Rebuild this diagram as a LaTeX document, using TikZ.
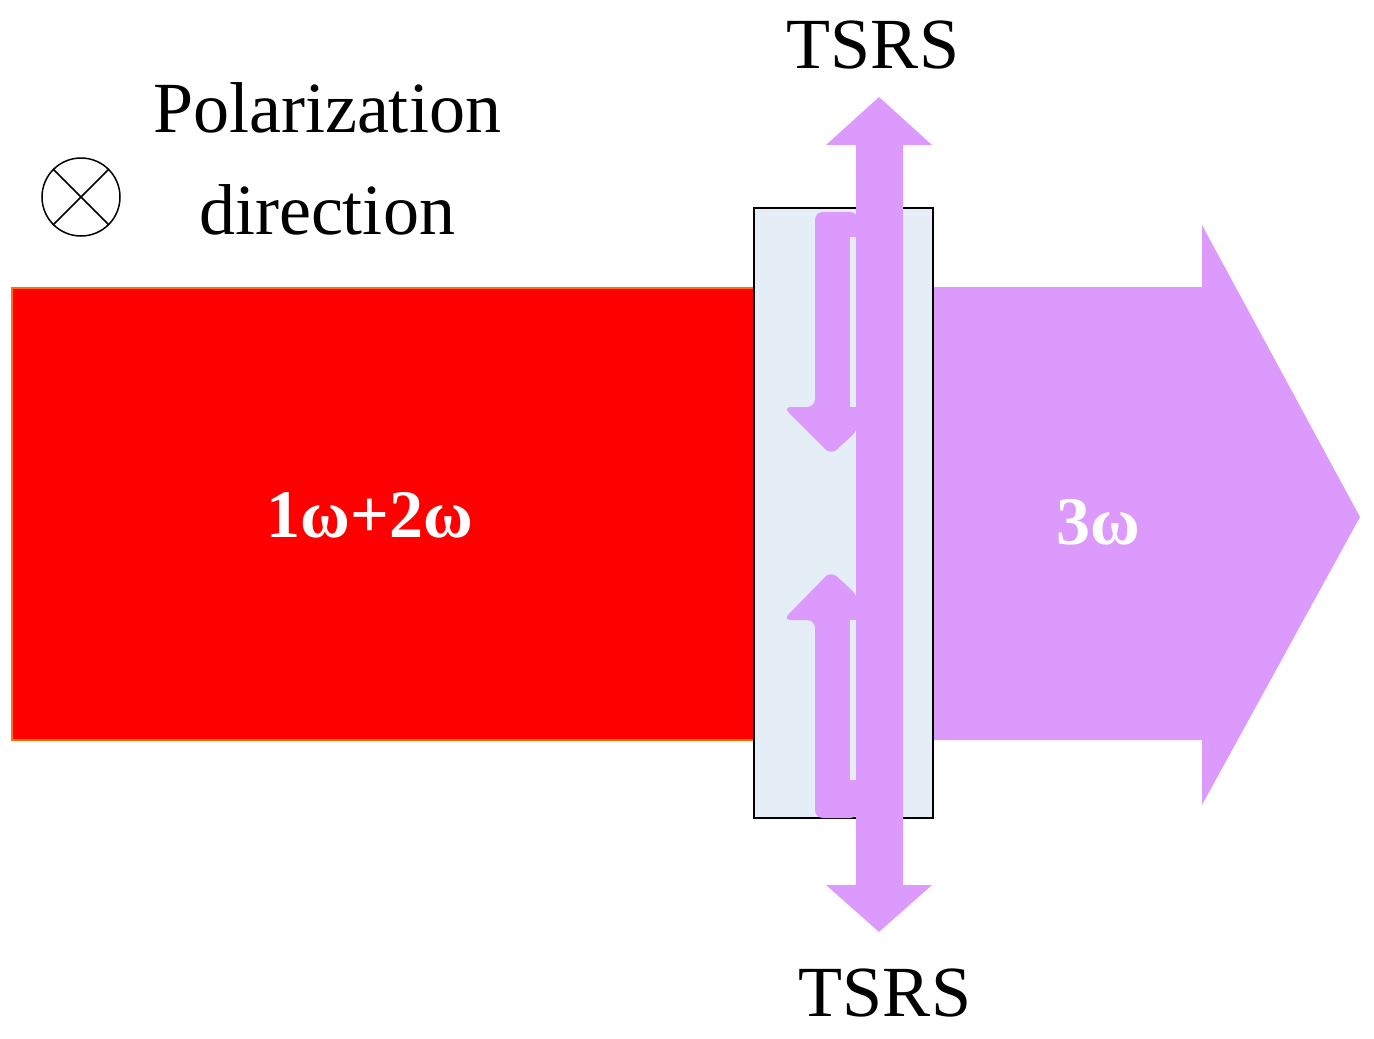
\documentclass[tikz,border=0pt]{standalone}
\usepackage{fontspec}
\setmainfont{Liberation Serif}
\definecolor{violetb}{RGB}{220,155,252}
\definecolor{xtalc}{RGB}{229,237,247}
\definecolor{edgeor}{RGB}{255,110,0}
\begin{document}
\begin{tikzpicture}[x=1pt,y=-1pt,
  vio/.style={fill=violetb, draw=none},
  lbl/.style={font=\fontsize{72}{80}\selectfont, inner sep=0pt},
  blbl/.style={font=\fontsize{68}{76}\selectfont\bfseries, text=white, inner sep=0pt}]
\useasboundingbox (0,0) rectangle (1374,1039);
% red beam
\filldraw[fill=red, draw=edgeor, line width=1.5pt] (12,288) rectangle (754,740);
\node[blbl] (in) at (370,515) {1ω+2ω};
% 3w arrow
\fill[vio] (933,287) -- (1202,287) -- (1202,225) -- (1360,517) -- (1202,805) -- (1202,740) -- (933,740) -- cycle;
% crystal
\node[draw=black, line width=2pt, fill=xtalc, minimum width=179pt, minimum height=610pt, inner sep=0pt] (xtal) at (843.5,513) {};
% hooks
\fill[vio, rounded corners=8pt] (858,212) -- (815,212) -- (815,407) -- (783,407) -- (831,455) -- (858,430) -- cycle;
\fill[xtalc] (850,237) rectangle (858,407);
\fill[vio, rounded corners=8pt] (858,818) -- (815,818) -- (815,620) -- (783,620) -- (831,571) -- (858,596) -- cycle;
\fill[xtalc] (850,620) rectangle (858,780);
% vertical double arrow
\fill[vio] (879,97) -- (932,145) -- (903,145) -- (903,885) -- (932,885) -- (879,932) -- (826,885) -- (856,885) -- (856,145) -- (826,145) -- cycle;
\node[blbl] (out) at (1098,522) {3ω};
\node[lbl] (t1) at (873,45) {TSRS};
\node[lbl] (t2) at (885,993) {TSRS};
\node[lbl] (p1) at (327,108) {Polarization};
\node[lbl] (p2) at (327,210) {direction};
\node[draw, circle, line width=1.5pt, minimum size=78pt, inner sep=0pt] (c) at (81,197) {};
\draw[line width=1.5pt] (c.north west) -- (c.south east) (c.north east) -- (c.south west);
\end{tikzpicture}
\end{document}
